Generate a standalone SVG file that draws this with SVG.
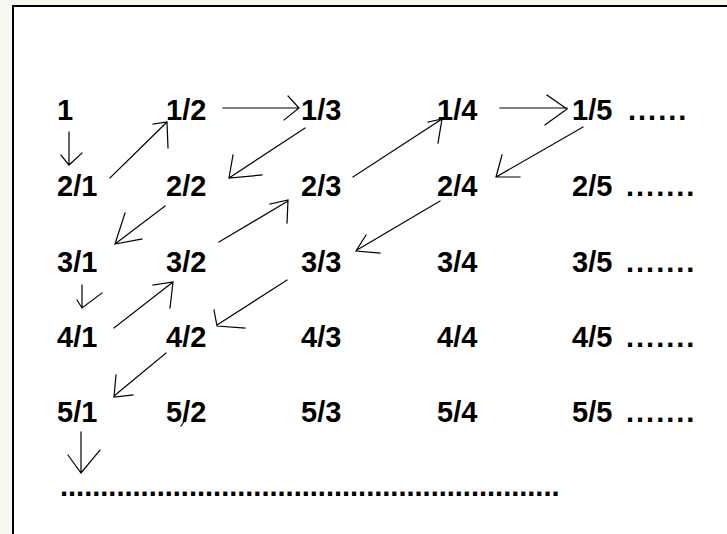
<svg xmlns="http://www.w3.org/2000/svg" width="727" height="534" viewBox="0 0 727 534">
  <style>
    .lbl { font-family: "Liberation Sans", Arial, sans-serif; font-weight: bold; font-size: 29px; fill: #000; }
    .dots { font-family: "Liberation Sans", Arial, sans-serif; font-weight: bold; font-size: 29px; fill: #000; letter-spacing: 2px; }
    .rule { font-family: "Liberation Sans", Arial, sans-serif; font-weight: bold; font-size: 29px; fill: #000; }
    .arrow { fill: none; stroke: #000; stroke-width: 1.2; stroke-linecap: square; stroke-linejoin: miter; }
  </style>

  <!-- page -->
  <rect x="0" y="0" width="727" height="534" fill="#f8f8f0"/>
  <rect x="12" y="5" width="715" height="529" fill="#ffffff"/>
  <line x1="12" y1="6" x2="727" y2="6" stroke="#000" stroke-width="2"/>
  <line x1="13" y1="5" x2="13" y2="534" stroke="#000" stroke-width="2"/>

  <!-- row 1 -->
  <g id="n-1-1"><text class="lbl" x="57" y="120">1</text></g>
  <g id="n-1-2"><text class="lbl" x="166" y="120">1/2</text></g>
  <g id="n-1-3"><text class="lbl" x="301" y="120">1/3</text></g>
  <g id="n-1-4"><text class="lbl" x="437" y="120">1/4</text></g>
  <g id="n-1-5"><text class="lbl" x="572" y="120">1/5</text><text class="dots" x="628" y="120">......</text></g>

  <!-- row 2 -->
  <g id="n-2-1"><text class="lbl" x="57" y="196">2/1</text></g>
  <g id="n-2-2"><text class="lbl" x="166" y="196">2/2</text></g>
  <g id="n-2-3"><text class="lbl" x="301" y="196">2/3</text></g>
  <g id="n-2-4"><text class="lbl" x="437" y="196">2/4</text></g>
  <g id="n-2-5"><text class="lbl" x="572" y="196">2/5</text><text class="dots" x="626" y="196">.......</text></g>

  <!-- row 3 -->
  <g id="n-3-1"><text class="lbl" x="57" y="272">3/1</text></g>
  <g id="n-3-2"><text class="lbl" x="166" y="272">3/2</text></g>
  <g id="n-3-3"><text class="lbl" x="301" y="272">3/3</text></g>
  <g id="n-3-4"><text class="lbl" x="437" y="272">3/4</text></g>
  <g id="n-3-5"><text class="lbl" x="572" y="272">3/5</text><text class="dots" x="626" y="272">.......</text></g>

  <!-- row 4 -->
  <g id="n-4-1"><text class="lbl" x="57" y="347">4/1</text></g>
  <g id="n-4-2"><text class="lbl" x="166" y="347">4/2</text></g>
  <g id="n-4-3"><text class="lbl" x="301" y="347">4/3</text></g>
  <g id="n-4-4"><text class="lbl" x="437" y="347">4/4</text></g>
  <g id="n-4-5"><text class="lbl" x="572" y="347">4/5</text><text class="dots" x="626" y="347">.......</text></g>

  <!-- row 5 -->
  <g id="n-5-1"><text class="lbl" x="57" y="422">5/1</text></g>
  <g id="n-5-2"><text class="lbl" x="166" y="422">5/2</text></g>
  <g id="n-5-3"><text class="lbl" x="301" y="422">5/3</text></g>
  <g id="n-5-4"><text class="lbl" x="437" y="422">5/4</text></g>
  <g id="n-5-5"><text class="lbl" x="572" y="422">5/5</text><text class="dots" x="626" y="422">.......</text></g>

  <!-- continuation row -->
  <g id="n-more"><text class="rule" x="60" y="496">..............................................................</text></g>

  <!-- zig-zag enumeration path -->
  <g id="connectors">
    <path class="arrow" d="M69 132 V165 M61 155 L69 165 L82 153"/>
    <path class="arrow" d="M110 178 L167 122 M153 124 L167 122 L168 148"/>
    <path class="arrow" d="M223 108 H299 M288 96 L299 108 L284 120"/>
    <path class="arrow" d="M305 128 L229 178 M233 155 L229 178 L262 175"/>
    <path class="arrow" d="M165 206 L115 244 M125 213 L115 244 L142 239"/>
    <path class="arrow" d="M82 285 V308 M77 300 L82 308 L102 293"/>
    <path class="arrow" d="M114 328 L173 282 M153 285 L173 282 L170 308"/>
    <path class="arrow" d="M219 242 L288 201 M270 204 L288 200 L287 223"/>
    <path class="arrow" d="M353 177 L442 119 M428 122 L442 119 L438 143"/>
    <path class="arrow" d="M500 108 H567 M547 95 L567 109 L545 125"/>
    <path class="arrow" d="M583 127 L496 177 M502 155 L496 177 L520 177"/>
    <path class="arrow" d="M440 201 L357 250 M366 235 L356 251 L380 253"/>
    <path class="arrow" d="M287 280 L217 325 M214 310 L217 326 L245 328"/>
    <path class="arrow" d="M166 353 L114 396 M116 375 L114 397 L133 395"/>
    <path class="arrow" d="M81 432 V473 M68 455 L81 473 L100 450"/>
    <path class="arrow" d="M186 419 L181 426"/>
  </g>
</svg>
